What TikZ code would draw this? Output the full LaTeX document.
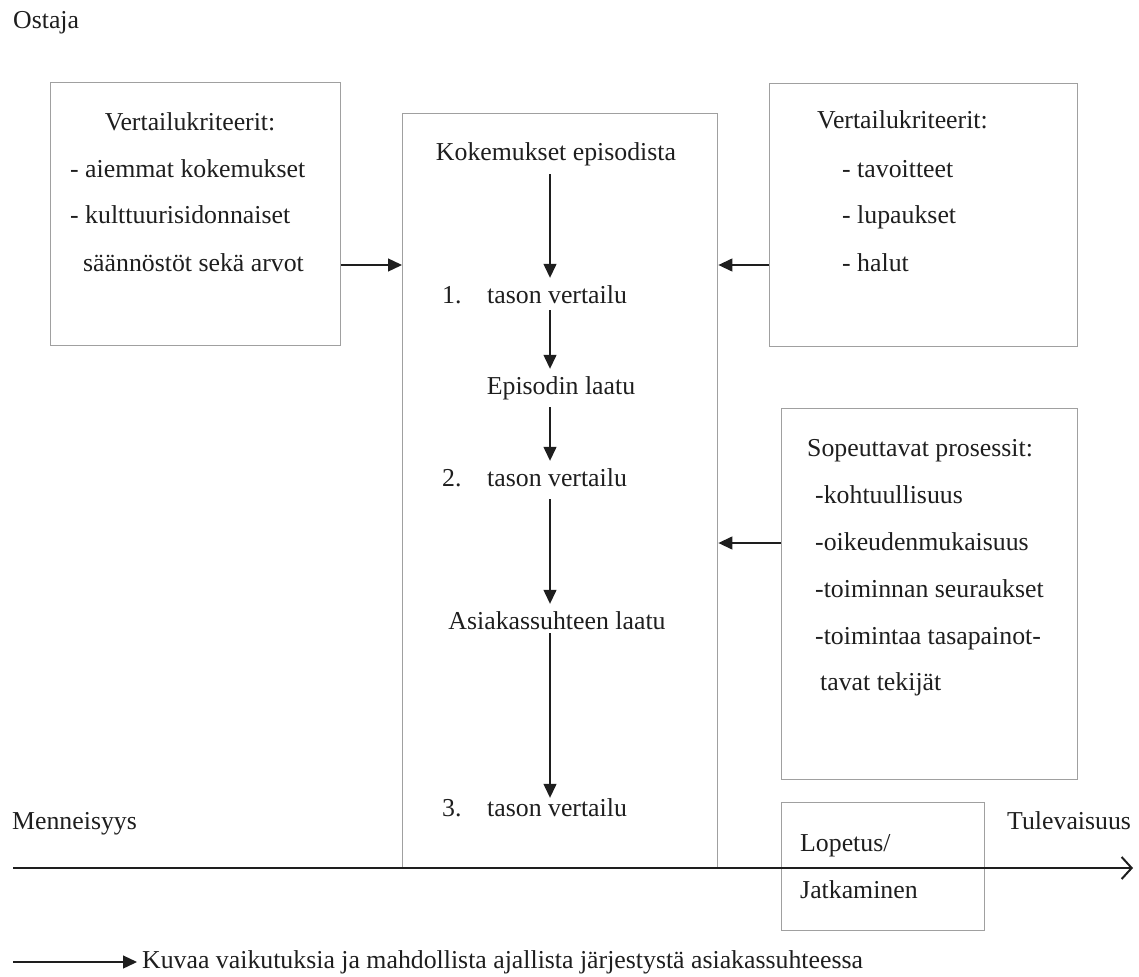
\documentclass[tikz,border=0pt]{standalone}
\usepackage{fontspec}
\setmainfont{Liberation Serif}
\usetikzlibrary{arrows.meta,positioning}
\definecolor{boxgrey}{RGB}{160,160,160}
\definecolor{inkblack}{RGB}{30,30,30}
\tikzset{
  pbox/.style   ={rectangle, draw=boxgrey, line width=1.4pt, inner sep=0pt, anchor=north west},
  ptxt/.style   ={inner xsep=0pt, inner ysep=7pt, text height=18pt, text depth=6pt,
                  text=inkblack, font=\fontsize{25.8}{30}\selectfont},
  ptxtL/.style  ={ptxt, anchor=west},
  pflow/.style  ={-{Triangle[length=14pt, width=13pt]}, line width=1.3pt, inkblack},
  ptime/.style  ={-{Straight Barb[length=10pt, width=22pt]}, line width=2pt, inkblack},
}

\begin{document}
\begin{tikzpicture}[x=1pt, y=-1pt]
  \useasboundingbox (0,0) rectangle (1139,976);
  % boxes
  \node[pbox, minimum width=290pt, minimum height=263pt] (leftbox) at (50,82)  {};
  \node[pbox, minimum width=315pt, minimum height=755pt] (centre)  at (402,113) {};
  \node[pbox, minimum width=308pt, minimum height=263pt] (rtop)    at (769,83)  {};
  \node[pbox, minimum width=296pt, minimum height=371pt] (rlow)    at (781,408) {};
  \node[pbox, minimum width=203pt, minimum height=128pt] (endbox)  at (781,802) {};
  % texts
  \node[ptxtL] (buyer) at (13,23) {Ostaja};
  \node[ptxt]  (critL) at (190,125) {Vertailukriteerit:};
  \node[ptxtL] (critL1) at (70,172) {- aiemmat kokemukset};
  \node[ptxtL] (critL2) at (70,218) {- kulttuurisidonnaiset};
  \node[ptxtL] (critL3) at (83,265) {säännöstöt sekä arvot};
  \node[ptxtL] (critR)  at (817,123) {Vertailukriteerit:};
  \node[ptxtL] (critR1) at (842,172) {- tavoitteet};
  \node[ptxtL] (critR2) at (842,218) {- lupaukset};
  \node[ptxtL] (critR3) at (842,265) {- halut};
  \node[ptxtL] (adapt)  at (807,450) {Sopeuttavat prosessit:};
  \node[ptxtL] (adapt1) at (815,497) {-kohtuullisuus};
  \node[ptxtL] (adapt2) at (815,544) {-oikeudenmukaisuus};
  \node[ptxtL] (adapt3) at (815,591) {-toiminnan seuraukset};
  \node[ptxtL] (adapt4) at (815,638) {-toimintaa tasapainot-};
  \node[ptxtL] (adapt5) at (820,684) {tavat tekijät};
  \node[ptxt]  (kok) at (556,155) {Kokemukset episodista};
  \node[ptxtL] (n1)  at (442,297) {1.};
  \node[ptxtL] (t1)  at (487,297) {tason vertailu};
  \node[ptxt]  (epi) at (561,388) {Episodin laatu};
  \node[ptxtL] (n2)  at (442,480) {2.};
  \node[ptxtL] (t2)  at (487,480) {tason vertailu};
  \node[ptxt]  (asi) at (557,623) {Asiakassuhteen laatu};
  \node[ptxtL] (n3)  at (442,810) {3.};
  \node[ptxtL] (t3)  at (487,810) {tason vertailu};
  \node[ptxtL] (past)   at (12,823)  {Menneisyys};
  \node[ptxtL] (future) at (1007,823) {Tulevaisuus};
  \node[ptxtL] (stop1)  at (800,845) {Lopetus/};
  \node[ptxtL] (stop2)  at (800,892) {Jatkaminen};
  \node[ptxtL] (legend) at (142,962) {Kuvaa vaikutuksia ja mahdollista ajallista järjestystä asiakassuhteessa};
  % helper coordinates
  \coordinate (ax) at (550,0);
  \coordinate (yA) at (0,265);
  \coordinate (yB) at (0,543);
  \coordinate (tstart) at (13,868);
  \coordinate (tend)   at (1133,868);
  \coordinate (lgstart) at (13,962);
  % arrows
  \draw[pflow] (leftbox.east |- yA) -- (centre.west |- yA);
  \draw[pflow] (rtop.west |- yA) -- (centre.east |- yA);
  \draw[pflow] (rlow.west |- yB) -- (centre.east |- yB);
  \draw[pflow] (kok.south -| ax) -- (t1.north -| ax);
  \draw[pflow, shorten <=-6pt] (t1.south -| ax) -- (epi.north -| ax);
  \draw[pflow] (epi.south -| ax) -- (t2.north -| ax);
  \draw[pflow] (t2.south -| ax) -- (asi.north -| ax);
  \draw[pflow, shorten <=-9pt, shorten >=-7pt] (asi.south -| ax) -- (t3.north -| ax);
  \draw[ptime] (tstart) -- (tend);
  \draw[pflow, shorten >=5pt] (lgstart) -- (legend.west);
\end{tikzpicture}
\end{document}
